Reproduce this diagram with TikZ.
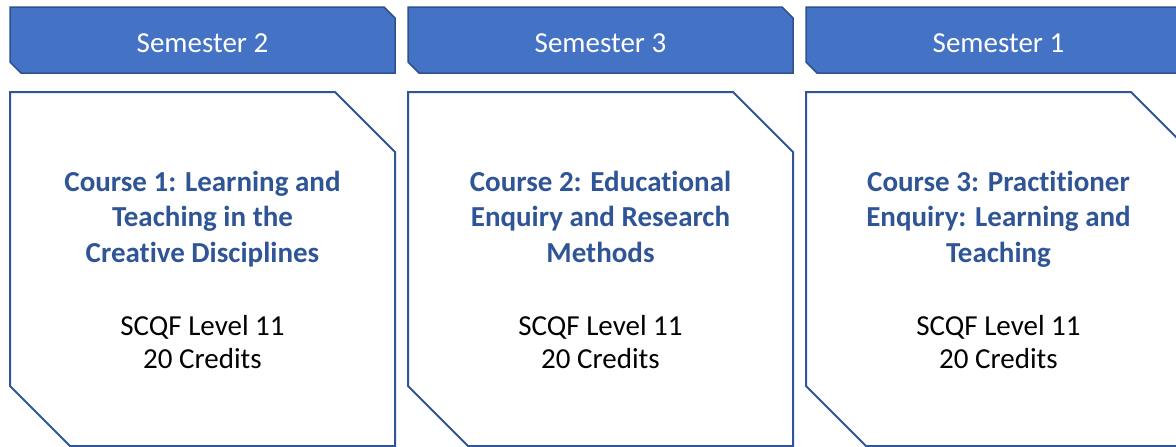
\documentclass[tikz,border=0pt]{standalone}
\usepackage{fontspec}
\setmainfont{Carlito}[Ligatures={NoCommon,NoRare}]
\definecolor{headfill}{HTML}{4472C4}
\definecolor{headline}{HTML}{2F528F}
\definecolor{boxline}{HTML}{2F5597}
\definecolor{titleblue}{HTML}{2F5597}
\begin{document}
\begin{tikzpicture}[x=1pt,y=-1pt,
  headshape/.style={fill=headfill,draw=headline,line width=1.5pt,line join=miter},
  courseshape/.style={fill=white,draw=boxline,line width=2pt,line join=miter},
  headtext/.style={text=white,font=\fontsize{29}{35}\selectfont,inner sep=0pt,anchor=base},
  titletext/.style={text=titleblue,font=\bfseries\fontsize{29}{35.5}\selectfont,align=center,inner sep=0pt,anchor=base},
  bodytext/.style={text=black,font=\fontsize{29}{33}\selectfont,align=center,inner sep=0pt,anchor=base}]
\useasboundingbox (0,0) rectangle (1176,447);
\begin{scope}
\clip (0,0) rectangle (1176,447);
% three columns: semester banner above a course card
\foreach \i/\sem in {0/2,1/3,2/1}{
  \pgfmathsetmacro{\xa}{10+398*\i}
  \pgfmathsetmacro{\xb}{\xa+385}
  \pgfmathsetmacro{\xm}{\xa+192.5}
  \draw[headshape] (\xa,7) -- (\xb-11,7) -- (\xb,18) -- (\xb,73) -- (\xa+11,73) -- (\xa,62) -- cycle;
  \draw[courseshape] (\xa,92) -- (\xb-60,92) -- (\xb,152) -- (\xb,446) -- (\xa+60,446) -- (\xa,386) -- cycle;
  \node[headtext] (sem\i) at (\xm,52.5) {Semester \sem};
  \node[bodytext] (cred\i) at (\xm,368) {SCQF Level 11\\20 Credits};
}
% base anchor of a multi-line node sits on its last line
\node[titletext] (course1) at (202.5,262) {Course 1: Learning and\\Teaching in the\\Creative Disciplines};
\node[titletext] (course2) at (600.5,262) {Course 2: Educational\\Enquiry and Research\\Methods};
\node[titletext] (course3) at (998.5,262) {Course 3: Practitioner\\Enquiry: Learning and\\Teaching};
\end{scope}
\end{tikzpicture}
\end{document}
